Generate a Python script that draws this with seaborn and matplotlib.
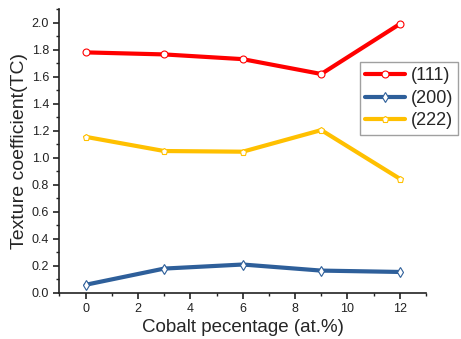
import matplotlib
matplotlib.use("Agg")
import matplotlib.pyplot as plt
import seaborn as sns
import pandas as pd
from matplotlib.ticker import MultipleLocator

cobalt = [0, 3, 6, 9, 12]
tc_111 = [1.78, 1.765, 1.73, 1.62, 1.99]
tc_200 = [0.06, 0.18, 0.21, 0.165, 0.155]
tc_222 = [1.155, 1.05, 1.045, 1.205, 0.845]
labels = ["(111)", "(200)", "(222)"]
colors = ["#FF0000", "#2E5F9A", "#FFC000"]
marker_list = ["o", "d", "p"]

sns.set_style("ticks")
plt.rcParams["font.family"] = ["Liberation Sans", "DejaVu Sans"]

fig = plt.figure(figsize=(4.61, 3.39), dpi=100)
ax = fig.add_axes([0.129, 0.136, 0.795, 0.837])

for vals, lab, col, mk in zip([tc_111, tc_200, tc_222], labels, colors, marker_list):
    d = pd.DataFrame({"x": cobalt, "y": vals})
    sns.lineplot(data=d, x="x", y="y", color=col, marker=mk, linewidth=3,
                 markersize=5, markerfacecolor="white", markeredgecolor=col,
                 markeredgewidth=0.8, label=lab, ax=ax)

ax.set_xlim(-1, 13)
ax.set_ylim(0, 2.1)
ax.xaxis.set_major_locator(MultipleLocator(2))
ax.xaxis.set_minor_locator(MultipleLocator(1))
ax.set_yticks([0.0, 0.2, 0.4, 0.6, 0.8, 1.0, 1.2, 1.4, 1.6, 1.8, 2.0])
ax.set_yticklabels([f"{v:.1f}" for v in ax.get_yticks()])
ax.yaxis.set_minor_locator(MultipleLocator(0.1))
ax.tick_params(axis="both", which="major", direction="out", length=4, width=1.2,
               labelsize=9, colors="#222222")
ax.tick_params(axis="both", which="minor", direction="out", length=2.5, width=1.0,
               colors="#222222")
for s in ["top", "right"]:
    ax.spines[s].set_visible(False)
for s in ["left", "bottom"]:
    ax.spines[s].set_linewidth(1.2)
    ax.spines[s].set_color("#222222")

ax.set_xlabel("Cobalt pecentage (at.%)", fontsize=13.5, labelpad=3)
ax.set_ylabel("Texture coefficient(TC)", fontsize=14, labelpad=3)

handles, labs = ax.get_legend_handles_labels()
ax.get_legend().remove()
fig.legend(handles, labs, loc="upper right", bbox_to_anchor=(0.994, 0.817),
           borderaxespad=0, fontsize=13, frameon=True, fancybox=False,
           edgecolor="#888888", handlelength=2.2, handletextpad=0.3,
           borderpad=0.3, labelspacing=0.3)

fig.savefig("out.png", dpi=100)
